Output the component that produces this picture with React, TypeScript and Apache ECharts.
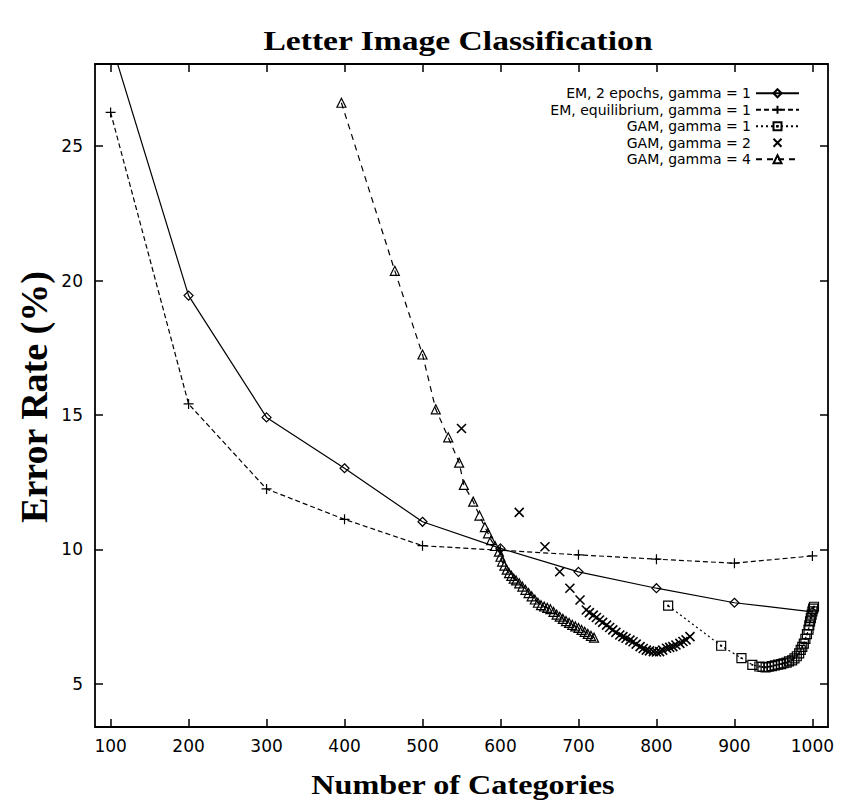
import React, { useEffect, useRef } from "react";
import * as echarts from "echarts";

const xTicks = [100, 200, 300, 400, 500, 600, 700, 800, 900, 1000];
const yTicks = [5, 10, 15, 20, 25];

const emTwoEpochs = [[100, 28.9], [200, 19.44], [300, 14.91], [400, 13.02], [500, 11.03], [600, 10.04], [700, 9.17], [800, 8.56], [900, 8.02], [1000, 7.68]];
const emEquilibrium = [[100, 26.25], [200, 15.41], [300, 12.25], [400, 11.12], [500, 10.14], [600, 9.97], [700, 9.8], [800, 9.64], [900, 9.49], [1000, 9.76]];
const gamGamma1 = [[815, 7.91], [883, 6.42], [909, 5.96], [923, 5.71], [932, 5.65], [936, 5.63], [940, 5.62], [944, 5.64], [948, 5.66], [952, 5.69], [956, 5.72], [960, 5.74], [963, 5.77], [967, 5.79], [970, 5.84], [974, 5.88], [977, 5.95], [980, 6.03], [983, 6.14], [985, 6.27], [987, 6.38], [989, 6.5], [991, 6.68], [993, 6.85], [995, 7.02], [996, 7.18], [997, 7.33], [998, 7.45], [999, 7.58], [1000, 7.7], [1001, 7.8], [1002, 7.87]];
const gamGamma2 = [[550, 14.5], [624, 11.38], [657, 10.1], [676, 9.17], [689, 8.56], [702, 8.12], [710, 7.75], [714, 7.65], [719, 7.56], [723, 7.47], [727, 7.38], [731, 7.29], [736, 7.19], [740, 7.1], [744, 7.01], [748, 6.92], [753, 6.82], [757, 6.76], [761, 6.7], [766, 6.63], [770, 6.57], [774, 6.48], [779, 6.39], [783, 6.32], [787, 6.26], [791, 6.23], [796, 6.2], [800, 6.19], [804, 6.2], [808, 6.26], [813, 6.33], [817, 6.36], [821, 6.39], [825, 6.45], [830, 6.51], [834, 6.58], [838, 6.64], [843, 6.76]];
const gamGamma4 = [[396, 26.61], [464.5, 20.36], [500, 17.25], [517, 15.21], [533, 14.17], [547, 13.23], [553, 12.4], [565, 11.78], [573, 11.26], [580, 10.83], [584, 10.6], [588, 10.35], [593, 10.13], [598, 9.92], [600, 9.73], [602, 9.55], [605, 9.4], [608, 9.25], [611, 9.12], [614, 9.02], [617, 8.92], [620, 8.85], [624, 8.74], [628, 8.62], [632, 8.5], [636, 8.38], [640, 8.26], [644, 8.14], [648, 8.02], [652, 7.93], [656, 7.88], [660, 7.83], [664, 7.78], [668, 7.68], [672, 7.58], [676, 7.5], [680, 7.42], [684, 7.34], [688, 7.27], [692, 7.2], [696, 7.14], [700, 7.08], [704, 7.01], [708, 6.94], [712, 6.86], [716, 6.79], [720, 6.72]];

const PLUS = "path://M0,5L10,5M5,0L5,10";
const CROSS = "path://M0,0L10,10M10,0L0,10";
const SQUARE = "path://M0,0H10V10H0Z M4.6,4.6H5.4V5.4H4.6Z";

const SANS = "DejaVu Sans";
const SERIF = "Liberation Serif";

export default function App() {
  const ref = useRef<HTMLDivElement>(null);
  useEffect(() => {
    document.body.style.margin = "0";
    const chart = echarts.init(ref.current!, null, { renderer: "svg" });
    const axisLine = { show: true, lineStyle: { color: "#000", width: 1.8 } };
    const tick = (vals: number[]) => ({ show: true, inside: true, length: 8, customValues: vals, lineStyle: { color: "#000", width: 1.5 } });
    const mk = (name: string, data: number[][], symbol: string, size: number, lineType: any, lineOpacity = 1, bw = 1.2) => ({
      name,
      type: "line",
      data,
      symbol,
      symbolSize: size,
      showAllSymbol: true,
      clip: true,
      itemStyle: { color: "none", borderColor: "#000", borderWidth: bw },
      lineStyle: { color: "#000", width: 1.2, type: lineType, opacity: lineOpacity },
      emphasis: { disabled: true },
    });
    chart.setOption({
      animation: false,
      grid: { left: 95, right: 14, top: 64, bottom: 78 },
      legend: {
        orient: "vertical",
        right: 37,
        top: 80,
        align: "right",
        itemWidth: 43,
        itemHeight: 10,
        itemGap: 0,
        textStyle: { fontFamily: SANS, fontSize: 14, color: "#000", lineHeight: 16.5 },
        data: ["EM, 2 epochs, gamma = 1", "EM, equilibrium, gamma = 1", "GAM, gamma = 1", "GAM, gamma = 2", "GAM, gamma = 4"],
      },
      xAxis: [
        {
          type: "value", min: 80, max: 1020, position: "bottom",
          axisLine, axisTick: tick(xTicks), splitLine: { show: false },
          axisLabel: { customValues: xTicks, formatter: (v: number) => String(v), fontFamily: SANS, fontSize: 17, color: "#000", margin: 10 },
        },
        {
          type: "value", min: 80, max: 1020, position: "top",
          axisLine, axisTick: tick(xTicks), splitLine: { show: false }, axisLabel: { show: false },
        },
      ],
      yAxis: [
        {
          type: "value", min: 3.4, max: 28.05, position: "left",
          axisLine, axisTick: tick(yTicks), splitLine: { show: false },
          axisLabel: { customValues: yTicks, formatter: (v: number) => String(v), fontFamily: SANS, fontSize: 17, color: "#000", margin: 12 },
        },
        {
          type: "value", min: 3.4, max: 28.05, position: "right",
          axisLine, axisTick: tick(yTicks), splitLine: { show: false }, axisLabel: { show: false },
        },
      ],
      graphic: [
        { type: "text", x: 458, y: 40, scaleX: 1.2, style: { text: "Letter Image Classification", font: `bold 28px "${SERIF}"`, fill: "#000", align: "center", verticalAlign: "middle" } },
        { type: "text", x: 463, y: 785, scaleX: 1.15, style: { text: "Number of Categories", font: `bold 28px "${SERIF}"`, fill: "#000", align: "center", verticalAlign: "middle" } },
        { type: "text", x: 34, y: 397, rotation: Math.PI / 2, style: { text: "Error Rate (%)", font: `bold 38px "${SERIF}"`, fill: "#000", align: "center", verticalAlign: "middle" } },
      ],
      series: [
        mk("EM, 2 epochs, gamma = 1", emTwoEpochs, "diamond", 9, "solid"),
        mk("EM, equilibrium, gamma = 1", emEquilibrium, PLUS, 10, [5, 3]),
        mk("GAM, gamma = 1", gamGamma1, SQUARE, 9, [2, 3]),
        mk("GAM, gamma = 2", gamGamma2, CROSS, 9, "solid", 0, 1.6),
        mk("GAM, gamma = 4", gamGamma4, "triangle", 9, [6, 5]),
      ],
    });
    return () => chart.dispose();
  }, []);
  return <div ref={ref} style={{ width: 842, height: 805 }} />;
}
